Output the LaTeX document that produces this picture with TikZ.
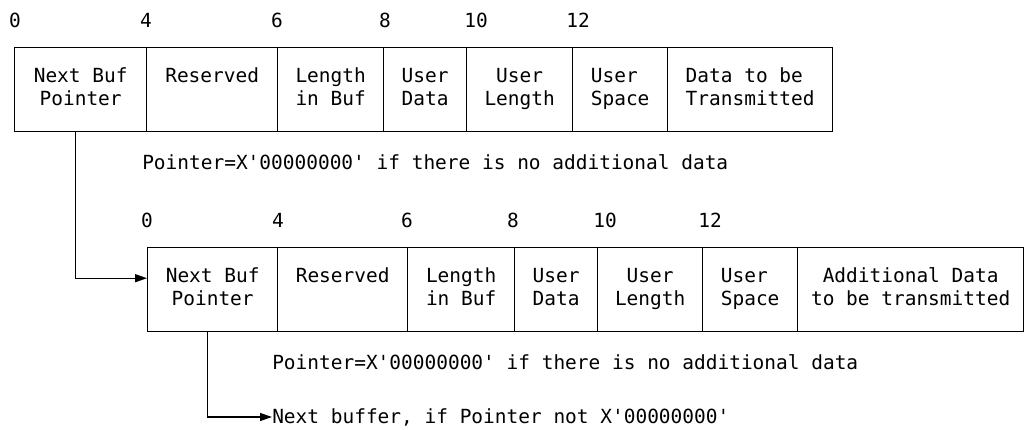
\documentclass[tikz,border=0pt]{standalone}
\usepackage{fontspec}
\setmonofont{DejaVu Sans Mono}
\usetikzlibrary{arrows.meta}
% two-line field label with even line boxes
\newcommand{\fld}[2]{\strut#1\\\strut#2}
\begin{document}
\begin{tikzpicture}[x=0.75pt,y=-0.75pt,
  every node/.style={font=\ttfamily\fontsize{14.6pt}{17.25pt}\selectfont},
  cellbox/.style={draw, line width=1pt, inner sep=0pt, anchor=north west,
    minimum height=63pt},
  offset/.style={inner sep=0pt},
  note/.style={inner sep=0pt, anchor=west},
  conn/.style={line width=1pt, -{Triangle[length=9pt,width=6pt]}}]
\useasboundingbox (0,0) rectangle (1025,429);

% ---- first buffer ----
\node[offset] (ta0) at (15,20) {0};
\node[offset] (ta4) at (146,20) {4};
\node[offset] (ta6) at (277,20) {6};
\node[offset] (ta8) at (385,20) {8};
\node[offset] (ta10) at (476,20) {10};
\node[offset] (ta12) at (578,20) {12};

\node[cellbox, minimum width=99pt, align=center]   (a1) at (14,47)  {\fld{Next Buf}{Pointer}};
\node[cellbox, minimum width=98.25pt, align=center](a2) at (146,47) {\fld{Reserved}{}};
\node[cellbox, minimum width=79.5pt, align=center] (a3) at (277,47) {\fld{Length}{in Buf}};
\node[cellbox, minimum width=62.25pt, align=center](a4) at (383,47) {\fld{User}{Data}};
\node[cellbox, minimum width=79.5pt, align=center] (a5) at (466,47) {\fld{User}{Length}};
\node[cellbox, minimum width=71.25pt, align=left]  (a6) at (572,47) {\fld{User}{Space}};
\node[cellbox, minimum width=123.75pt, align=left] (a7) at (667,47) {\fld{Data to be}{Transmitted}};

\node[note] (pa) at (142,162) {Pointer=X'00000000' if there is no additional data};

% ---- second buffer ----
\node[offset] (tb0) at (147,220) {0};
\node[offset] (tb4) at (278,220) {4};
\node[offset] (tb6) at (407,220) {6};
\node[offset] (tb8) at (513,220) {8};
\node[offset] (tb10) at (605,220) {10};
\node[offset] (tb12) at (710,220) {12};

\node[cellbox, minimum width=97.5pt, align=center] (b1) at (147,247) {\fld{Next Buf}{Pointer}};
\node[cellbox, minimum width=97.5pt, align=center] (b2) at (277,247) {\fld{Reserved}{}};
\node[cellbox, minimum width=80.25pt, align=center](b3) at (407,247) {\fld{Length}{in Buf}};
\node[cellbox, minimum width=62.25pt, align=center](b4) at (514,247) {\fld{User}{Data}};
\node[cellbox, minimum width=78.75pt, align=center](b5) at (597,247) {\fld{User}{Length}};
\node[cellbox, minimum width=71.25pt, align=left]  (b6) at (702,247) {\fld{User}{Space}};
\node[cellbox, minimum width=169.5pt, align=center](b7) at (797,247) {\fld{Additional Data}{to be transmitted}};

\node[note] (pb) at (272,362) {Pointer=X'00000000' if there is no additional data};
\node[note] (nb) at (272,417) {Next buffer, if Pointer not X'00000000'};

% ---- pointer chain ----
\draw[conn] ([xshift=-3.75pt]a1.south) |- ([yshift=8.6pt]b1.west);
\draw[conn] ([xshift=-3.75pt]b1.south) |- (nb.west);
\end{tikzpicture}
\end{document}
